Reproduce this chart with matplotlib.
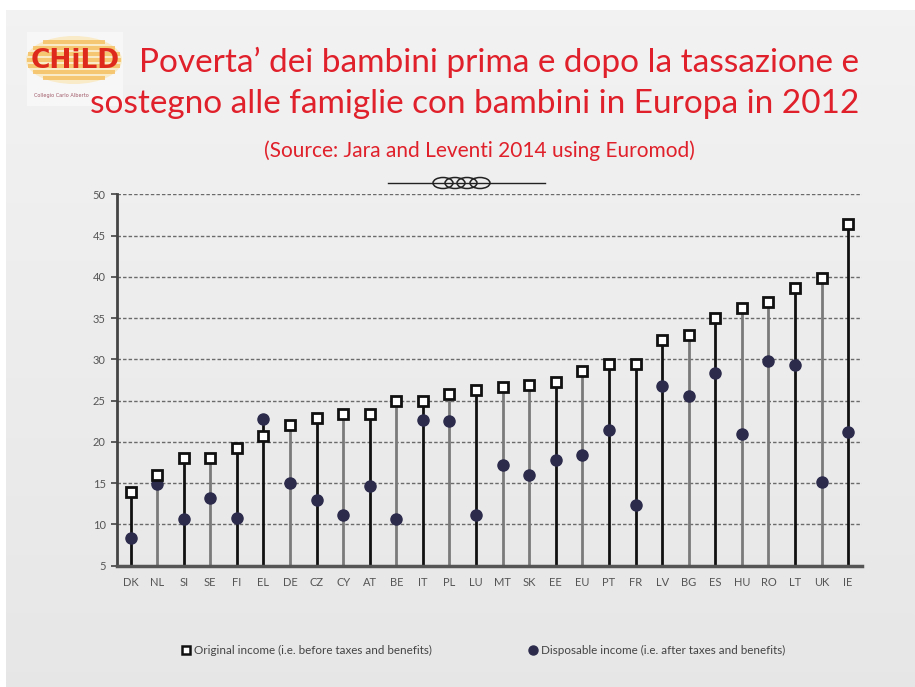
import numpy as np
import matplotlib
matplotlib.use("Agg")
import matplotlib.pyplot as plt
from matplotlib.patches import Ellipse, Rectangle

# Child poverty rates (%) before and after taxes/benefits, 2012
countries = ["DK", "NL", "SI", "SE", "FI", "EL", "DE", "CZ", "CY", "AT", "BE", "IT", "PL", "LU",
             "MT", "SK", "EE", "EU", "PT", "FR", "LV", "BG", "ES", "HU", "RO", "LT", "UK", "IE"]
original = [13.9, 16.0, 18.1, 18.1, 19.3, 20.7, 22.0, 22.9, 23.4, 23.4, 24.9, 24.9, 25.8, 26.3,
            26.6, 26.9, 27.3, 28.6, 29.4, 29.4, 32.4, 33.0, 35.0, 36.2, 36.9, 38.7, 39.9, 46.4]
disposable = [8.3, 14.9, 10.7, 13.2, 10.8, 22.8, 15.0, 12.9, 11.1, 14.7, 10.7, 22.7, 22.5, 11.1,
              17.2, 16.0, 17.8, 18.4, 21.5, 12.4, 26.8, 25.6, 28.4, 21.0, 29.8, 29.3, 15.1, 21.2]
# which drop lines come out dark (1) or grey (0)
stem_dark = [1, 0, 1, 0, 1, 1, 0, 1, 0, 1, 0, 1, 0, 1,
             0, 0, 1, 0, 1, 1, 1, 0, 1, 0, 0, 1, 0, 1]
yticks = [5, 10, 15, 20, 25, 30, 35, 40, 45, 50]
legend_labels = ["Original income (i.e. before taxes and benefits)",
                 "Disposable income (i.e. after taxes and benefits)"]

red = "#e0202a"
W, H = 915, 687
fig = plt.figure(figsize=(W / 100, H / 100), dpi=100)
fig.patch.set_facecolor("white")

# slide background with a soft vertical gradient
bg = fig.add_axes([0, 0, 1, 1], zorder=-10)
grad = np.linspace(0.95, 0.905, 256).reshape(-1, 1)
bg.imshow(np.dstack([grad, grad, grad]), aspect="auto", extent=[6, W, H, 10],
          origin="upper")
bg.set_xlim(0, W)
bg.set_ylim(H, 0)
bg.axis("off")

# logo
bg.add_patch(Rectangle((27, 32), 96, 74, color="#f7f7f7", lw=0))
bg.add_patch(Ellipse((74, 60), 96, 48, color="#fbe3a8", alpha=0.6, lw=0))
for yy, ww in [(42, 62), (48, 82), (54, 92), (60, 94), (66, 92), (72, 82), (78, 62)]:
    bg.add_patch(Rectangle((74 - ww / 2, yy - 2.0), ww, 4.0, color="#f4b850", alpha=0.7, lw=0))
bg.text(75, 61, "CHiLD", color="#de2a1c", fontsize=19, fontweight="heavy",
        family="DejaVu Sans", ha="center", va="center")
bg.text(34, 96, "Collegio Carlo Alberto", color="#a05868", fontsize=3.6, ha="left", va="center")

# titles
bg.text(859, 62, "Poverta\u2019 dei bambini prima e dopo la tassazione e", color=red,
        fontsize=24, family="Lato", ha="right", va="center")
bg.text(859, 104, "sostegno alle famiglie con bambini in Europa in 2012", color=red,
        fontsize=24, family="Lato", ha="right", va="center")
bg.text(479, 151, "(Source: Jara and Leventi 2014 using Euromod)", color=red,
        fontsize=15, family="Lato", ha="center", va="center")

# ornament under the subtitle
bg.plot([388, 545], [183, 183], color="#222222", lw=1.0)
for cx in [443, 455, 467, 480]:
    bg.add_patch(Ellipse((cx, 183), 20, 11, fill=False, ec="#222222", lw=1.1))

# chart
ax = fig.add_axes([116.7 / W, 1 - 565.7 / H, (862 - 116.7) / W, (565.7 - 194.3) / H])
ax.set_facecolor("none")
x = np.arange(len(countries))
for xi, o, d, dark in zip(x, original, disposable, stem_dark):
    ax.plot([xi, xi], [5, max(o, d)], color="#111111" if dark else "#7a7a7a",
            lw=2.0, zorder=2, solid_capstyle="butt")
ax.plot(x, original, ls="none", marker="s", ms=7.5, mfc="white", mec="#111111", mew=2.0,
        zorder=4)
ax.plot(x, disposable, ls="none", marker="o", ms=8, mfc="#2c2b4c", mec="#2c2b4c",
        zorder=3)

ax.set_xlim(-0.52, len(countries) - 0.48)
ax.set_ylim(5, 50)
ax.set_yticks(yticks)
ax.set_xticks(x)
ax.set_xticklabels(countries)
for yv in yticks[1:]:
    ax.axhline(yv, color="#6a6a6a", lw=1.0, ls=(0, (2.5, 1.5)), zorder=1)
for side in ["top", "right"]:
    ax.spines[side].set_visible(False)
ax.spines["left"].set_color("#444444")
ax.spines["left"].set_linewidth(2.0)
ax.spines["bottom"].set_color("#555555")
ax.spines["bottom"].set_linewidth(2.5)
ax.tick_params(axis="y", length=4, width=1.2, color="#444444", labelsize=8,
               labelcolor="#555555", pad=4)
ax.tick_params(axis="x", length=0, labelsize=8, labelcolor="#555555", pad=8)
for lab in ax.get_xticklabels() + ax.get_yticklabels():
    lab.set_family("Lato")

# legend
bg.plot([186], [650], ls="none", marker="s", ms=6, mfc="white", mec="#111111", mew=1.8)
bg.text(194, 650, legend_labels[0], fontsize=8.4, family="Lato", color="#444444",
        ha="left", va="center")
bg.plot([533], [650], ls="none", marker="o", ms=6.5, mfc="#2c2b4c", mec="#2c2b4c")
bg.text(541, 650, legend_labels[1], fontsize=8.4, family="Lato", color="#444444",
        ha="left", va="center")

fig.savefig("out.png", dpi=100)
